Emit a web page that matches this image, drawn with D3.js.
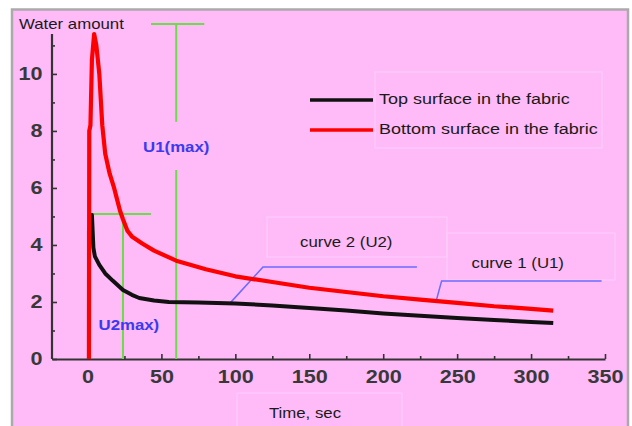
<!DOCTYPE html>
<html><head><meta charset="utf-8">
<script src="https://cdn.jsdelivr.net/npm/d3@7"></script>
<style>html,body{margin:0;padding:0;background:#fff;}svg{display:block;}</style>
</head><body>
<svg id="chart" width="632" height="426"></svg>
<script>
// ---- data ----
const redTime  = [1, 1.2, 2, 3, 4.5, 6, 8, 10, 12, 15, 18, 20, 22, 24, 27, 30, 37, 45, 60, 80, 100, 125, 150, 175, 200, 225, 250, 275, 300, 315];
const redValue = [0, 8, 8.2, 10.5, 11.4, 11.0, 10.0, 8.2, 7.2, 6.5, 6.0, 5.6, 5.2, 4.9, 4.5, 4.3, 4.05, 3.8, 3.45, 3.15, 2.9, 2.7, 2.5, 2.35, 2.2, 2.08, 1.97, 1.85, 1.76, 1.7];
const blackTime  = [1, 1, 3, 4, 5, 8, 12, 17, 24, 30, 35, 45, 55, 75, 100, 125, 150, 175, 200, 225, 250, 275, 300, 315];
const blackValue = [0, 4.5, 5.05, 3.9, 3.6, 3.3, 3.0, 2.75, 2.42, 2.25, 2.14, 2.05, 2.0, 1.98, 1.95, 1.88, 1.79, 1.7, 1.6, 1.52, 1.44, 1.37, 1.3, 1.26];
const seriesNames = ["Top surface in the fabric", "Bottom surface in the fabric"];
const xTicks = [0, 50, 100, 150, 200, 250, 300, 350];
const xMinorTicks = [25, 75, 125, 175, 225, 275, 325];
const yTicks = [0, 2, 4, 6, 8, 10];
const yMinorTicks = [1, 3, 5, 7, 9, 11];
const yTitle = "Water amount";
const xTitle = "Time, sec";
// annotations (data units)
const u1Time = 60, u1Top = 11.75, u1Cap = [43, 79], u1Gap = [6.63, 8.32], u1Label = "U1(max)", u1LabelPos = [60, 7.45];
const u2Time = 24, u2Top = 5.09, u2Cap = [3.7, 43], u2Label = "U2max)", u2LabelPos = [28, 1.2];
const curve2Leader = [[96.4, 1.96], [118.7, 3.23], [222.8, 3.23]];
const curve1Leader = [[236, 2.07], [239.5, 2.74], [347.7, 2.74]];
const curve2Label = ["curve 2 (U2)", 175, 4.1];
const curve1Label = ["curve 1 (U1)", 291, 3.37];

// ---- drawing ----
const svg = d3.select("#chart");
const pink = "#ffbbf8";
const SX = 1.2; // horizontal stretch of the original picture's text

svg.append("rect").attr("x", 12).attr("y", 9.5).attr("width", 616).attr("height", 440)
  .attr("fill", pink).attr("stroke", "#aaaaaa").attr("stroke-width", 2.5);

// faint text-box outlines seen in the picture
const faint = "#ffcdfa";
[[375, 72, 227, 76], [237, 393, 165, 40], [267, 217, 180, 40], [447, 233, 168, 47]].forEach(b => {
  svg.append("rect").attr("x", b[0]).attr("y", b[1]).attr("width", b[2]).attr("height", b[3])
    .attr("fill", "none").attr("stroke", faint).attr("stroke-width", 1);
});

const x = d3.scaleLinear().domain([-24, 350]).range([52, 605]);
const y = d3.scaleLinear().domain([0, 11.4]).range([359, 34]);

function txt(px, py, s, o) {
  const g = svg.append("g").attr("transform", `translate(${px},${py}) scale(${SX},1)`);
  return g.append("text").text(s)
    .attr("font-family", "Liberation Sans, Arial, sans-serif")
    .attr("font-size", o.size).attr("font-weight", o.weight || "normal")
    .attr("fill", o.fill || "#222").attr("text-anchor", o.anchor || "start")
    .attr("dominant-baseline", "central");
}

// axes
const axisColor = "#333";
const gx = svg.append("g").attr("transform", `translate(0,${y(0)})`)
  .call(d3.axisBottom(x).tickValues(xTicks).tickSizeInner(-5).tickSizeOuter(0).tickPadding(11).tickFormat(d3.format("d")));
const gxm = svg.append("g").attr("transform", `translate(0,${y(0)})`)
  .call(d3.axisBottom(x).tickValues(xMinorTicks).tickSizeInner(-3).tickSizeOuter(0).tickFormat(""));
const gy = svg.append("g").attr("transform", `translate(${x(-24)},0)`)
  .call(d3.axisLeft(y).tickValues(yTicks).tickSizeInner(-5).tickSizeOuter(0).tickPadding(8).tickFormat(d3.format("d")));
const gym = svg.append("g").attr("transform", `translate(${x(-24)},0)`)
  .call(d3.axisLeft(y).tickValues(yMinorTicks).tickSizeInner(-3).tickSizeOuter(0).tickFormat(""));
gxm.select(".domain").remove();
gym.select(".domain").remove();
[gx, gy, gxm, gym].forEach(g => {
  g.selectAll(".domain").attr("stroke", axisColor).attr("stroke-width", 2.2);
  g.selectAll(".tick line").attr("stroke", axisColor).attr("stroke-width", 1.6);
  g.selectAll(".tick text").attr("font-family", "Liberation Sans, Arial, sans-serif")
    .attr("font-size", 18).attr("font-weight", "bold").attr("fill", "#383838")
    .attr("transform", `scale(${SX},1)`);
});
gy.select(".domain").attr("d", `M0,${y(0)}V${y(11.4)}`);

// green annotation lines
const green = "#6cdc4a";
function gl(x1, y1, x2, y2) {
  svg.append("line").attr("x1", x1).attr("y1", y1).attr("x2", x2).attr("y2", y2)
    .attr("stroke", green).attr("stroke-width", 2);
}
gl(x(u1Time), y(u1Top), x(u1Time), y(u1Gap[1]));
gl(x(u1Time), y(u1Gap[0]), x(u1Time), y(0));
gl(x(u1Cap[0]), y(u1Top), x(u1Cap[1]), y(u1Top));
gl(x(u2Time), y(u2Top), x(u2Time), y(0));
gl(x(u2Cap[0]), y(u2Top), x(u2Cap[1]), y(u2Top));

// blue leader lines
const line = d3.line().x(d => x(d[0])).y(d => y(d[1]));
[curve2Leader, curve1Leader].forEach(p => {
  svg.append("path").attr("d", line(p)).attr("fill", "none").attr("stroke", "#6b6bff").attr("stroke-width", 1.5);
});

// data curves
const blackPts = blackTime.map((t, i) => [t, blackValue[i]]);
const redPts = redTime.map((t, i) => [t, redValue[i]]);
svg.append("path").attr("d", line(blackPts)).attr("fill", "none").attr("stroke", "#111")
  .attr("stroke-width", 4).attr("stroke-linejoin", "round");
svg.append("path").attr("d", line(redPts)).attr("fill", "none").attr("stroke", "#ff0000")
  .attr("stroke-width", 4.2).attr("stroke-linejoin", "round");

// legend
const legColors = ["#111", "#ff0000"];
const legY = [100, 130];
seriesNames.forEach((n, i) => {
  svg.append("line").attr("x1", 310).attr("x2", 373).attr("y1", legY[i]).attr("y2", legY[i])
    .attr("stroke", legColors[i]).attr("stroke-width", 3.5);
  txt(379, legY[i] - 1, n, {size: 15, fill: "#1a1a1a"});
});

// titles & labels
txt(19, 24, yTitle, {size: 14, fill: "#1a1a1a"});
txt(305, 413, xTitle, {size: 14, fill: "#1a1a1a", anchor: "middle"});
txt(x(u1LabelPos[0]), y(u1LabelPos[1]), u1Label, {size: 14, weight: "bold", fill: "#3a3af0", anchor: "middle"});
txt(x(u2LabelPos[0]), y(u2LabelPos[1]), u2Label, {size: 14, weight: "bold", fill: "#3a3af0", anchor: "middle"});
txt(x(curve2Label[1]), y(curve2Label[2]), curve2Label[0], {size: 14, fill: "#1a1a1a", anchor: "middle"});
txt(x(curve1Label[1]), y(curve1Label[2]), curve1Label[0], {size: 14, fill: "#1a1a1a", anchor: "middle"});
</script>
</body></html>
